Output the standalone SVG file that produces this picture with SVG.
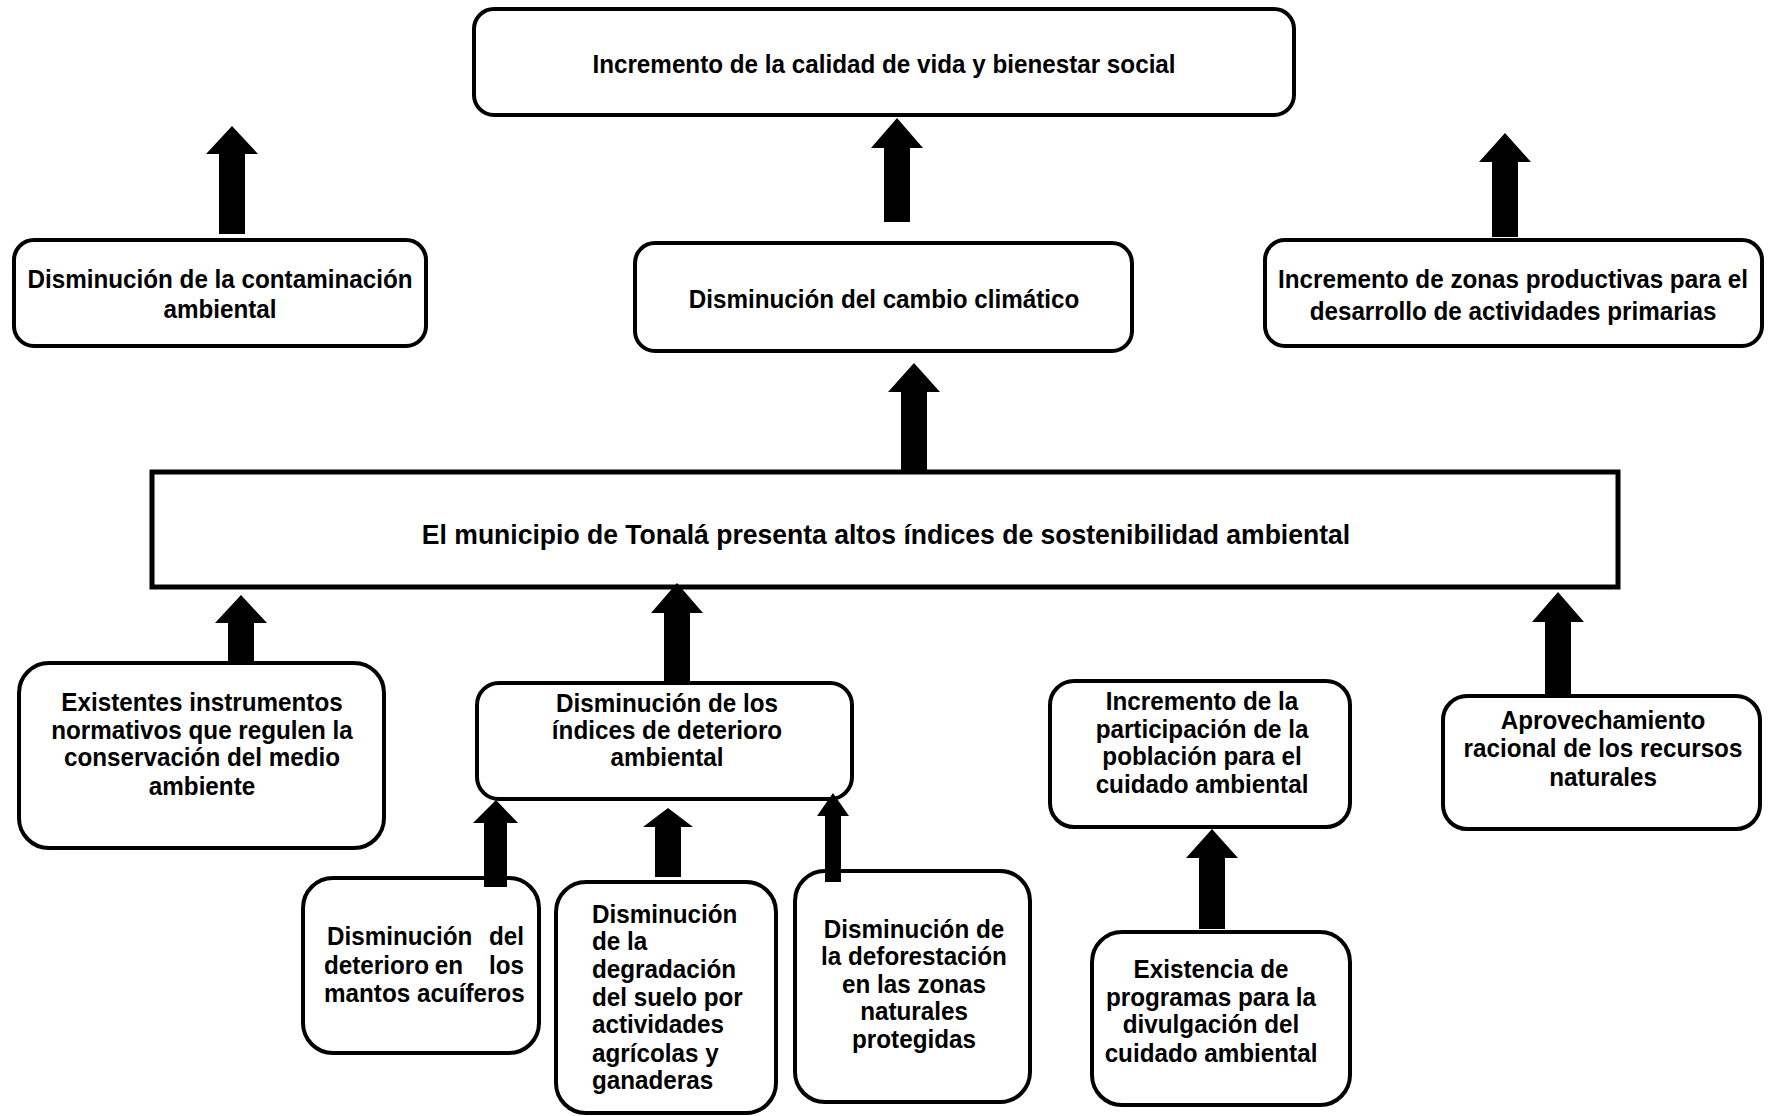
<svg xmlns="http://www.w3.org/2000/svg" width="1769" height="1116" viewBox="0 0 1769 1116">
<style>
.box{fill:#fff;stroke:#000;stroke-width:4}
.t{font-family:"Liberation Sans",Arial,sans-serif;font-weight:bold;font-size:25px;fill:#000;text-anchor:middle}
.l{text-anchor:start}
.r{text-anchor:end}
.arr{fill:#000}
</style>
<rect width="1769" height="1116" fill="#fff"/>
<g id="n-top">
<rect class="box" x="474" y="9" width="820" height="106" rx="20"/>
<text class="t" transform="translate(884,73) scale(0.97,1)">Incremento de la calidad de vida y bienestar social</text>
</g>
<g id="n-contaminacion">
<rect class="box" x="14" y="240" width="412" height="106" rx="20"/>
<text class="t" transform="translate(220,288) scale(0.97,1)">Disminución de la contaminación</text>
<text class="t" transform="translate(220,318) scale(0.97,1)">ambiental</text>
</g>
<g id="n-cambio">
<rect class="box" x="635" y="243" width="497" height="108" rx="20"/>
<text class="t" transform="translate(884,308) scale(0.97,1)">Disminución del cambio climático</text>
</g>
<g id="n-zonas">
<rect class="box" x="1265" y="240" width="497" height="106" rx="20"/>
<text class="t" transform="translate(1513,288) scale(0.97,1)">Incremento de zonas productivas para el</text>
<text class="t" transform="translate(1513,320) scale(0.97,1)">desarrollo de actividades primarias</text>
</g>
<g id="n-main">
<rect class="box" x="152" y="472" width="1466" height="115" style="stroke-width:5"/>
<text class="t" transform="translate(886,544) scale(0.965,1)" style="font-size:27.5px">El municipio de Tonalá presenta altos índices de sostenibilidad ambiental</text>
</g>
<g id="n-instrumentos">
<rect class="box" x="19" y="663" width="365" height="185" rx="30"/>
<text class="t" transform="translate(202,711) scale(0.97,1)">Existentes instrumentos</text>
<text class="t" transform="translate(202,739) scale(0.97,1)">normativos que regulen la</text>
<text class="t" transform="translate(202,766) scale(0.97,1)">conservación del medio</text>
<text class="t" transform="translate(202,795) scale(0.97,1)">ambiente</text>
</g>
<g id="n-indices">
<rect class="box" x="477" y="683" width="375" height="116" rx="22"/>
<text class="t" transform="translate(667,712) scale(0.97,1)">Disminución de los</text>
<text class="t" transform="translate(667,739) scale(0.97,1)">índices de deterioro</text>
<text class="t" transform="translate(667,766) scale(0.97,1)">ambiental</text>
</g>
<g id="n-participacion">
<rect class="box" x="1050" y="681" width="300" height="146" rx="24"/>
<text class="t" transform="translate(1202,710) scale(0.97,1)">Incremento de la</text>
<text class="t" transform="translate(1202,738) scale(0.97,1)">participación de la</text>
<text class="t" transform="translate(1202,765) scale(0.97,1)">población para el</text>
<text class="t" transform="translate(1202,793) scale(0.97,1)">cuidado ambiental</text>
</g>
<g id="n-aprovechamiento">
<rect class="box" x="1443" y="696" width="317" height="133" rx="24"/>
<text class="t" transform="translate(1603,729) scale(0.97,1)">Aprovechamiento</text>
<text class="t" transform="translate(1603,757) scale(0.97,1)">racional de los recursos</text>
<text class="t" transform="translate(1603,786) scale(0.97,1)">naturales</text>
</g>
<g id="n-acuiferos">
<rect class="box" x="303" y="878" width="236" height="175" rx="30"/>
<text class="t l" transform="translate(327,945) scale(0.97,1)">Disminución</text>
<text class="t r" transform="translate(524,945) scale(0.97,1)">del</text>
<text class="t l" transform="translate(324,974) scale(0.97,1)">deterioro</text>
<text class="t" transform="translate(449,974) scale(0.97,1)">en</text>
<text class="t r" transform="translate(524,974) scale(0.97,1)">los</text>
<text class="t l" transform="translate(324,1002) scale(0.97,1)">mantos acuíferos</text>
</g>
<g id="n-degradacion">
<rect class="box" x="556" y="882" width="220" height="231" rx="30"/>
<text class="t l" transform="translate(592,923) scale(0.97,1)">Disminución</text>
<text class="t l" transform="translate(592,950) scale(0.97,1)">de la</text>
<text class="t l" transform="translate(592,978) scale(0.97,1)">degradación</text>
<text class="t l" transform="translate(592,1006) scale(0.97,1)">del suelo por</text>
<text class="t l" transform="translate(592,1033) scale(0.97,1)">actividades</text>
<text class="t l" transform="translate(592,1062) scale(0.97,1)">agrícolas y</text>
<text class="t l" transform="translate(592,1089) scale(0.97,1)">ganaderas</text>
</g>
<g id="n-deforestacion">
<rect class="box" x="795" y="871" width="235" height="231" rx="30"/>
<text class="t" transform="translate(914,938) scale(0.97,1)">Disminución de</text>
<text class="t" transform="translate(914,965) scale(0.97,1)">la deforestación</text>
<text class="t" transform="translate(914,993) scale(0.97,1)">en las zonas</text>
<text class="t" transform="translate(914,1020) scale(0.97,1)">naturales</text>
<text class="t" transform="translate(914,1048) scale(0.97,1)">protegidas</text>
</g>
<g id="n-programas">
<rect class="box" x="1092" y="932" width="258" height="173" rx="30"/>
<text class="t" transform="translate(1211,978) scale(0.97,1)">Existencia de</text>
<text class="t" transform="translate(1211,1006) scale(0.97,1)">programas para la</text>
<text class="t" transform="translate(1211,1033) scale(0.97,1)">divulgación del</text>
<text class="t" transform="translate(1211,1062) scale(0.97,1)">cuidado ambiental</text>
</g>
<g id="connectors">
<path class="arr" d="M232,126 L258,154 L245,154 L245,234 L219,234 L219,154 L206,154 Z"/>
<path class="arr" d="M897,118 L923,148 L910,148 L910,222 L884,222 L884,148 L871,148 Z"/>
<path class="arr" d="M1505,133 L1531,162 L1518,162 L1518,237 L1492,237 L1492,162 L1479,162 Z"/>
<path class="arr" d="M914,363 L940,392 L927,392 L927,470 L901,470 L901,392 L888,392 Z"/>
<path class="arr" d="M241,595 L267,623 L254,623 L254,663 L228,663 L228,623 L215,623 Z"/>
<path class="arr" d="M677,583 L703,613 L690,613 L690,683 L664,683 L664,613 L651,613 Z"/>
<path class="arr" d="M1558,592 L1584,622 L1571,622 L1571,696 L1545,696 L1545,622 L1532,622 Z"/>
<path class="arr" d="M496,800 L518,823 L507,823 L507,887 L484,887 L484,823 L473,823 Z"/>
<path class="arr" d="M668,808 L693,827 L681,827 L681,877 L655,877 L655,827 L643,827 Z"/>
<path class="arr" d="M833,793 L849,816 L841,816 L841,882 L825,882 L825,816 L817,816 Z"/>
<path class="arr" d="M1212,829 L1238,858 L1225,858 L1225,929 L1199,929 L1199,858 L1186,858 Z"/>
</g>
</svg>
